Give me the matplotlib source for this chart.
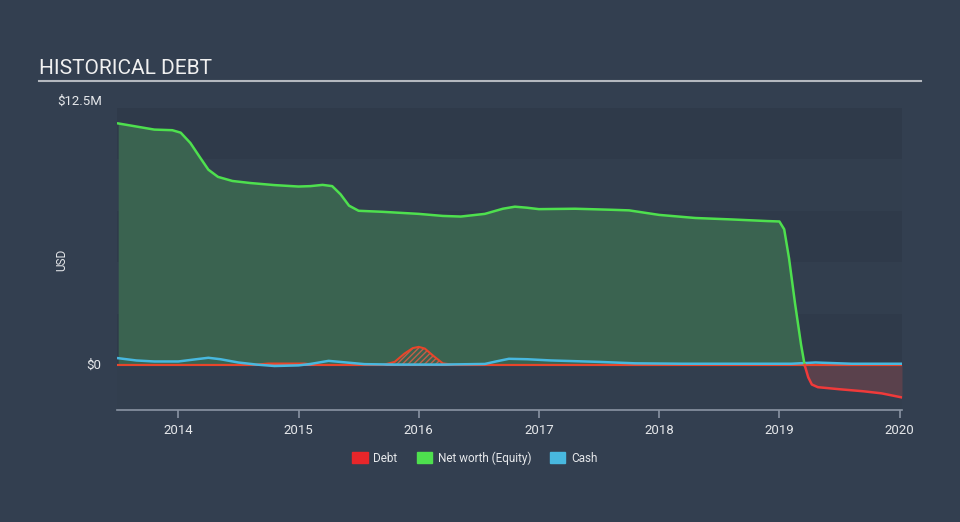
import numpy as np
import matplotlib.pyplot as plt

plt.rcParams['font.family'] = ['Roboto', 'DejaVu Sans']

# values in millions USD, x in decimal years
eq_x = [2013.5, 2013.65, 2013.8, 2013.95, 2014.02, 2014.1, 2014.18, 2014.25, 2014.33, 2014.45,
        2014.6, 2014.8, 2015.0, 2015.1, 2015.2, 2015.28, 2015.35, 2015.42, 2015.5, 2015.7,
        2016.0, 2016.2, 2016.35, 2016.55, 2016.7, 2016.8, 2016.9, 2017.0, 2017.3, 2017.6,
        2017.75, 2018.0, 2018.3, 2018.6, 2018.9, 2019.0, 2019.04, 2019.08, 2019.13, 2019.18, 2019.21]
eq_y = [11.75, 11.6, 11.45, 11.42, 11.3, 10.8, 10.1, 9.5, 9.15, 8.95,
        8.85, 8.75, 8.68, 8.7, 8.76, 8.7, 8.3, 7.75, 7.5, 7.45,
        7.35, 7.25, 7.22, 7.35, 7.6, 7.7, 7.65, 7.58, 7.6, 7.55,
        7.52, 7.3, 7.15, 7.08, 7.0, 6.98, 6.6, 5.2, 3.0, 1.0, 0.0]

neg_x = [2019.21, 2019.24, 2019.27, 2019.32, 2019.5, 2019.7, 2019.85, 2020.02]
neg_y = [0.0, -0.6, -0.95, -1.08, -1.18, -1.28, -1.38, -1.58]

debt_x = [2013.5, 2014.6, 2014.75, 2015.05, 2015.15, 2015.7, 2015.8, 2015.88, 2015.95, 2016.0,
          2016.05, 2016.12, 2016.2, 2016.3, 2019.2, 2020.02]
debt_y = [0.0, 0.0, 0.07, 0.07, 0.0, 0.0, 0.15, 0.55, 0.82, 0.88,
          0.8, 0.45, 0.08, 0.0, 0.0, 0.0]

cash_x = [2013.5, 2013.65, 2013.8, 2014.0, 2014.15, 2014.25, 2014.35, 2014.5, 2014.65, 2014.8,
          2015.0, 2015.1, 2015.25, 2015.4, 2015.55, 2015.8, 2016.2, 2016.55, 2016.65, 2016.75,
          2016.9, 2017.1, 2017.5, 2017.8, 2018.2, 2018.8, 2019.1, 2019.3, 2019.6, 2020.02]
cash_y = [0.33, 0.22, 0.17, 0.17, 0.28, 0.35, 0.28, 0.12, 0.02, -0.05,
          -0.02, 0.05, 0.2, 0.12, 0.04, 0.02, 0.02, 0.05, 0.18, 0.3,
          0.28, 0.22, 0.15, 0.08, 0.06, 0.06, 0.06, 0.12, 0.06, 0.06]

years = [2014, 2015, 2016, 2017, 2018, 2019, 2020]

bg = '#333f50'
fig = plt.figure(figsize=(9.6, 5.22), dpi=100, facecolor=bg)
ax = fig.add_axes([117 / 960, 112 / 522, 785 / 960, 302 / 522])
ax.set_facecolor('#2f3a4a')

ymin, ymax = -2.19, 12.5
for i, lo in enumerate(np.arange(-2.5, 12.5, 2.5)):
    if i % 2 == 0:
        ax.axhspan(lo, lo + 2.5, color='#323e4e', zorder=0, lw=0)

# equity
ax.fill_between(eq_x, eq_y, 0, color='#3a6350', zorder=1, lw=0)
ax.plot(eq_x, eq_y, color='#4ee04e', lw=1.8, zorder=4)
ax.fill_between(neg_x, neg_y, 0, color='#5a414c', zorder=1, lw=0)
ax.plot(neg_x, neg_y, color='#f03a3a', lw=1.8, zorder=4)

# debt
ax.fill_between(debt_x, debt_y, 0, facecolor='none', edgecolor='#c0604a', hatch='//////', lw=0, zorder=2)
ax.plot(debt_x, debt_y, color='#e8452a', lw=1.5, zorder=3)

# cash
ax.plot(cash_x, cash_y, color='#48b8df', lw=1.8, zorder=3)

ax.axhline(0, color='#d46a6a', lw=1.5, zorder=2.5)

ax.set_xlim(2013.49, 2020.02)
ax.set_ylim(ymin, ymax)
ax.set_xticks(years)
ax.set_xticklabels([str(y) for y in years])
ax.set_yticks([0, 12.5])
ax.set_yticklabels(['$0', '$12.5M'])
for s in ['top', 'right', 'left']:
    ax.spines[s].set_visible(False)
ax.spines['bottom'].set_color('#8a94a3')
ax.spines['bottom'].set_linewidth(1.2)
ax.tick_params(axis='x', colors='#8a94a3', length=6, width=1.2, labelcolor='#e6e8eb', labelsize=9.5, pad=4)
ax.tick_params(axis='y', length=0, labelcolor='#e6e8eb', labelsize=9.5, pad=11)
for lbl in ax.get_yticklabels():
    lbl.set_verticalalignment('bottom' if lbl.get_text() == '$12.5M' else 'center')
fig.text(62 / 960, 1 - 260 / 522, 'USD', color='#e6e8eb', fontsize=8.5, rotation=90, va='center', ha='center')

fig.text(39 / 960, 1 - 69 / 522, 'HISTORICAL DEBT', color='#f0f0f0', fontsize=15, va='center', ha='left')
fig.add_artist(plt.Line2D([39 / 960, 921 / 960], [1 - 81 / 522, 1 - 81 / 522], color='#b4b8bf', lw=1.5))

handles = [plt.Rectangle((0, 0), 1, 1, color=c) for c in ['#e8262a', '#4ee04e', '#48b8df']]
fig.legend(handles, ['Debt', 'Net worth (Equity)', 'Cash'], loc='center', bbox_to_anchor=(475 / 960, 1 - 458 / 522),
           ncol=3, frameon=False, fontsize=8.5, labelcolor='#e6e8eb', handlelength=1.3, handleheight=1.0,
           columnspacing=1.6, handletextpad=0.5)

fig.savefig('out.png', dpi=100, facecolor=bg)
